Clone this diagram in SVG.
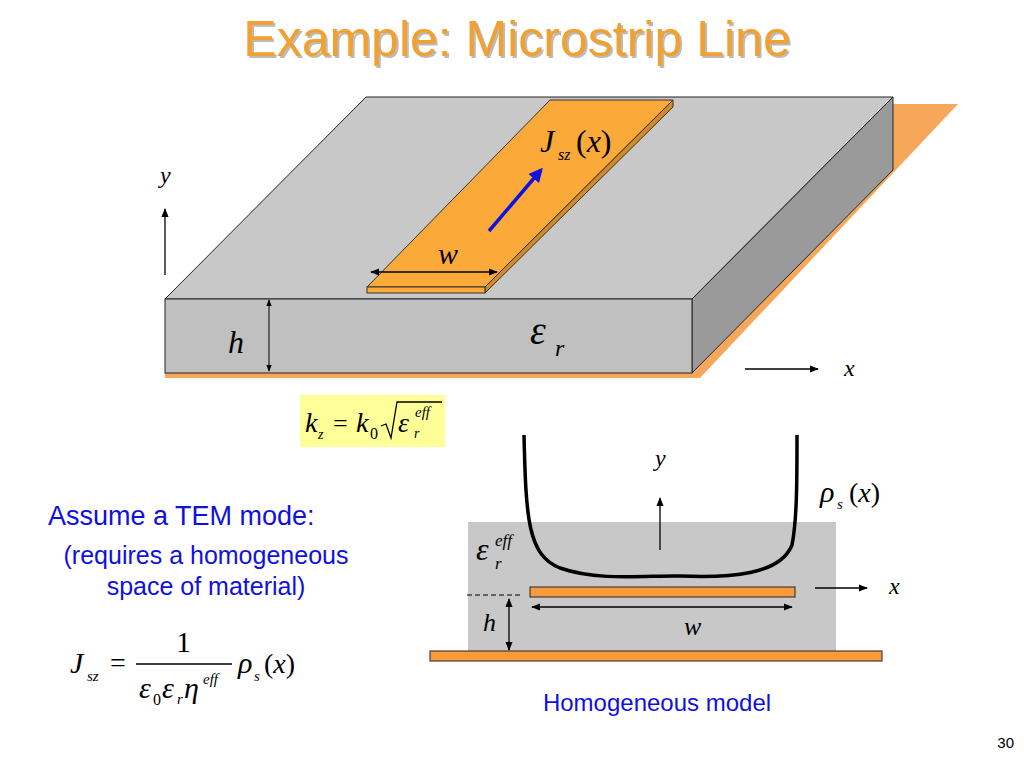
<svg xmlns="http://www.w3.org/2000/svg" width="1024" height="768" viewBox="0 0 1024 768">
<defs>
<marker id="ah" viewBox="0 0 10 10" refX="9" refY="5" markerWidth="7" markerHeight="7" orient="auto-start-reverse"><path d="M0,1 L10,5 L0,9 z" fill="#000"/></marker>
<marker id="bh" viewBox="0 0 10 10" refX="8" refY="5" markerWidth="4" markerHeight="4" orient="auto"><path d="M0,0 L10,5 L0,10 z" fill="#1010E0"/></marker>
</defs>
<style>
.m{font-family:"Liberation Serif",serif;font-style:italic;fill:#000}
.n{font-family:"Liberation Serif",serif;fill:#000}
.b{font-family:"Liberation Sans",Arial,sans-serif;fill:#1010E0}
.ln{stroke:#000;stroke-width:1.3;fill:none}
.or{fill:#FBAA3A;stroke:#333;stroke-width:1}
</style>
<rect width="1024" height="768" fill="#fff"/>
<text x="519" y="58" text-anchor="middle" font-family="Liberation Sans,Arial,sans-serif" font-size="50" fill="#BBB">Example: Microstrip Line</text>
<text x="517" y="56" text-anchor="middle" font-family="Liberation Sans,Arial,sans-serif" font-size="50" fill="#F2A030">Example: Microstrip Line</text>

<g id="substrate3d">
<polygon points="893,104 958,104 700,378 165,378 165,373 692,373 893,170" fill="#F6A75A"/>
<polygon points="366,97 893,97 692,299 165,299" fill="#C8C8C8" stroke="#222" stroke-width="1"/>
<polygon points="893,97 893,170 692,373 692,299" fill="#9A9A9A" stroke="#222" stroke-width="1"/>
<rect x="165" y="299" width="527" height="74" fill="#C0C0C0" stroke="#222" stroke-width="1"/>
</g>
<g id="strip3d">
<polygon points="550,100 673,100 485,287 367,287" class="or"/>
<polygon points="673,100 673,107 485,293 485,287" fill="#D48A20" stroke="#333" stroke-width="1"/>
<rect x="367" y="287" width="118" height="6" class="or"/>
<line x1="489" y1="231" x2="541" y2="170" stroke="#1010E0" stroke-width="3.5" marker-end="url(#bh)"/>
<text x="540" y="152" class="m" font-size="32">J</text><text x="558" y="160" class="m" font-size="16">sz</text><text x="576" y="152" class="n" font-size="32">(<tspan class="m">x</tspan>)</text>
</g>
<g id="connectors">
<line x1="371" y1="272" x2="497" y2="272" class="ln" marker-start="url(#ah)" marker-end="url(#ah)"/>
<line x1="165" y1="275" x2="165" y2="209" class="ln" marker-end="url(#ah)"/>
<line x1="269" y1="300" x2="269" y2="371" stroke="#000" stroke-width="1" marker-start="url(#ah)" marker-end="url(#ah)"/>
<line x1="745" y1="369" x2="818" y2="369" class="ln" marker-end="url(#ah)"/>
</g>
<text x="438" y="264" class="m" font-size="30">w</text>
<text x="160" y="183" class="m" font-size="24">y</text>
<text x="228" y="353" class="m" font-size="32">h</text>
<text x="530" y="344" class="m" font-size="40">ε</text><text x="555" y="356" class="m" font-size="24">r</text>
<text x="844" y="376" class="m" font-size="24">x</text>

<g id="kz">
<rect x="300" y="395" width="145" height="52" fill="#FFFF99"/>
<text x="305" y="432" class="m" font-size="28">k</text><text x="318" y="439" class="m" font-size="14">z</text>
<text x="333" y="432" class="n" font-size="26">=</text>
<text x="356" y="432" class="m" font-size="28">k</text><text x="370" y="439" class="n" font-size="16">0</text>
<path d="M381,426 L386,424 L391,438 L397,402 L442,402" stroke="#000" stroke-width="1.3" fill="none"/>
<text x="398" y="432" class="m" font-size="28">ε</text><text x="414" y="438" class="m" font-size="14">r</text><text x="415" y="417" class="m" font-size="15">eff</text>
</g>

<text x="48" y="525" class="b" font-size="27">Assume a TEM mode:</text>
<text x="206" y="564" class="b" font-size="25" text-anchor="middle">(requires a homogeneous</text>
<text x="206" y="595" class="b" font-size="25" text-anchor="middle">space of material)</text>

<g id="jsz">
<text x="70" y="673" class="m" font-size="30">J</text><text x="87" y="681" class="m" font-size="15">sz</text>
<text x="110" y="672" class="n" font-size="28">=</text>
<text x="176" y="652" class="n" font-size="30">1</text>
<line x1="136" y1="664" x2="232" y2="664" stroke="#000" stroke-width="1.3"/>
<text x="139" y="698" class="m" font-size="30">ε</text><text x="153" y="705" class="n" font-size="16">0</text>
<text x="162" y="698" class="m" font-size="30">ε</text><text x="177" y="704" class="m" font-size="15">r</text>
<text x="184" y="698" class="m" font-size="30">η</text><text x="203" y="684" class="m" font-size="15">eff</text>
<text x="238" y="673" class="m" font-size="30">ρ</text><text x="254" y="681" class="m" font-size="15">s</text>
<text x="264" y="673" class="n" font-size="28">(<tspan class="m">x</tspan>)</text>
</g>

<g id="homog">
<rect x="468" y="522" width="368" height="129" fill="#C8C8C8"/>
<rect x="430" y="651" width="452" height="10" fill="#FB9A3A" stroke="#222" stroke-width="1"/>
<rect x="530" y="587" width="265" height="10" fill="#FB9A3A" stroke="#222" stroke-width="1"/>
<line x1="467" y1="595" x2="522" y2="595" stroke="#000" stroke-width="1" stroke-dasharray="5,3"/>
<path d="M524,435 C526,520 528,555 560,568 C600,582 650,575 680,576 C730,578 780,575 792,545 C797,520 797,480 797,435" fill="none" stroke="#000" stroke-width="3.5"/>
</g>
<g id="connectors2">
<line x1="532" y1="607" x2="792" y2="607" class="ln" marker-start="url(#ah)" marker-end="url(#ah)"/>
<line x1="509" y1="599" x2="509" y2="650" class="ln" marker-start="url(#ah)" marker-end="url(#ah)"/>
<line x1="660" y1="550" x2="660" y2="498" class="ln" marker-end="url(#ah)"/>
<line x1="815" y1="588" x2="867" y2="588" class="ln" marker-end="url(#ah)"/>
</g>
<text x="476" y="560" class="m" font-size="32">ε</text><text x="495" y="569" class="m" font-size="17">r</text><text x="495" y="546" class="m" font-size="17">eff</text>
<text x="483" y="631" class="m" font-size="26">h</text>
<text x="684" y="635" class="m" font-size="26">w</text>
<text x="655" y="466" class="m" font-size="24">y</text>
<text x="889" y="594" class="m" font-size="24">x</text>
<text x="820" y="502" class="m" font-size="30">ρ</text><text x="837" y="509" class="m" font-size="15">s</text>
<text x="849" y="502" class="n" font-size="28">(<tspan class="m">x</tspan>)</text>
<text x="657" y="711" class="b" font-size="24" text-anchor="middle">Homogeneous model</text>
<text x="1014" y="748" font-family="Liberation Sans,Arial,sans-serif" font-size="15" text-anchor="end">30</text>
</svg>
